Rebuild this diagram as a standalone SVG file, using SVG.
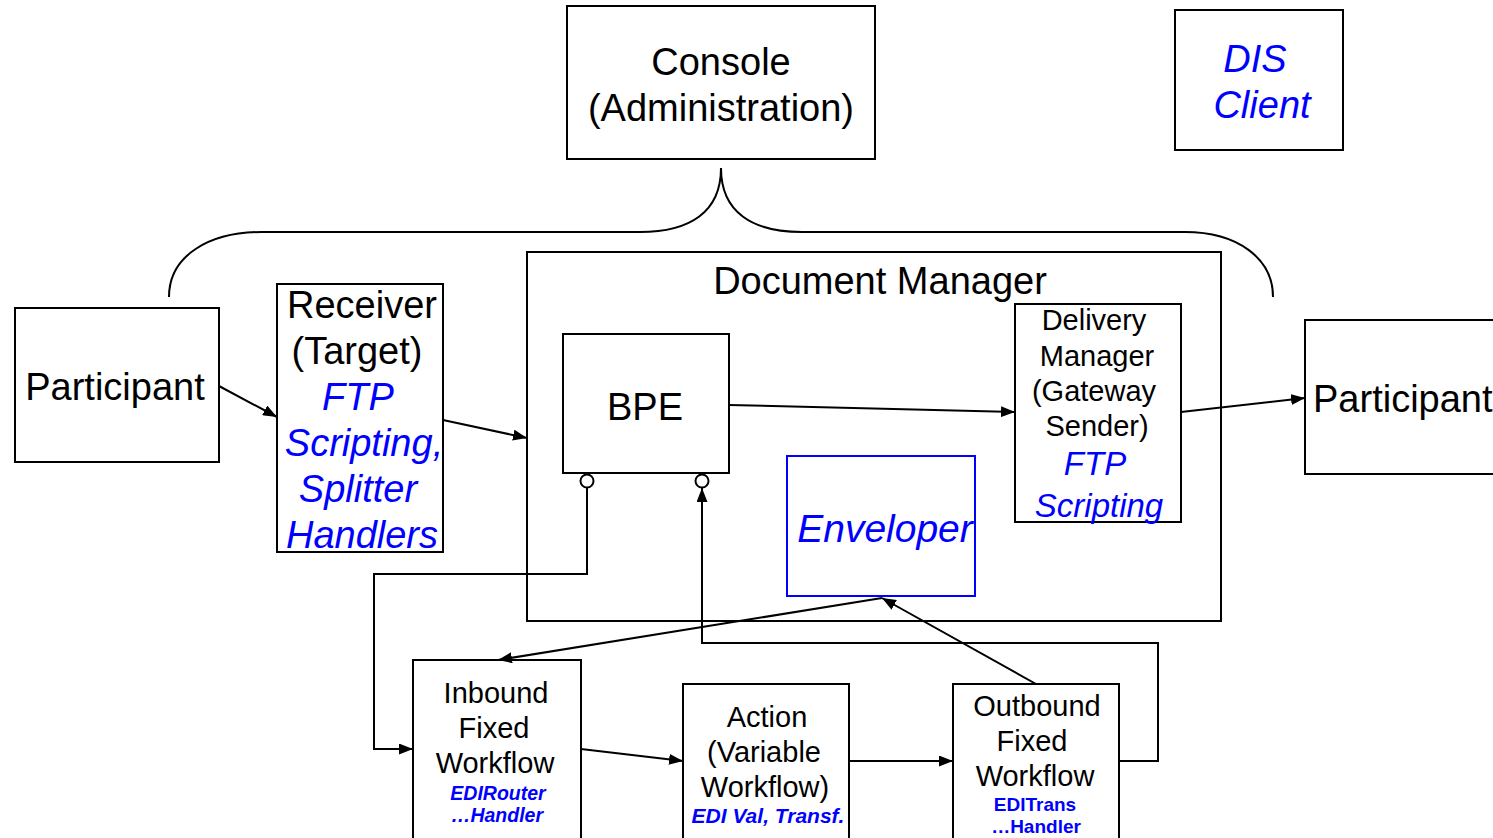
<svg xmlns="http://www.w3.org/2000/svg" width="1493" height="838" viewBox="0 0 1493 838">
<defs>
<marker id="ah" viewBox="0 0 14 11" refX="14" refY="5.5" markerWidth="14" markerHeight="11" markerUnits="userSpaceOnUse" orient="auto"><path d="M0,0 L14,5.5 L0,11 Z" fill="#000"/></marker>
</defs>
<style>
.box{fill:#fff;stroke:#000;stroke-width:2}
.bbox{fill:#fff;stroke:#0000ff;stroke-width:2}
.t{font-family:"Liberation Sans",Arial,sans-serif;fill:#000;text-anchor:middle}
.b{font-family:"Liberation Sans",Arial,sans-serif;fill:#0000ff;font-style:italic;text-anchor:middle}
.bb{font-family:"Liberation Sans",Arial,sans-serif;fill:#0000ff;font-weight:bold;text-anchor:middle}
.c{fill:none;stroke:#000;stroke-width:2}
</style>
<rect width="1493" height="838" fill="#fff"/>
<g id="brace"><path class="c" d="M169,297 C169,255 210,232 262,232 L640,232 C690,232 721,212 721,168 C721,212 752,232 802,232 L1185,232 C1237,232 1273,258 1273,297"/></g>
<g id="console"><rect class="box" x="567" y="6" width="308" height="153"/>
<text class="t" font-size="38" x="721" y="75">Console</text>
<text class="t" font-size="38" x="721" y="121">(Administration)</text></g>
<g id="dis"><rect class="box" x="1175" y="10" width="168" height="140"/>
<text class="b" font-size="38" x="1255" y="72">DIS</text>
<text class="b" font-size="38" x="1262" y="118">Client</text></g>
<g id="docmgr"><rect class="box" x="527" y="252" width="694" height="369"/>
<text class="t" font-size="38" x="880" y="294">Document Manager</text></g>
<g id="participant1"><rect class="box" x="15" y="308" width="204" height="154"/>
<text class="t" font-size="38" x="115" y="400">Participant</text></g>
<g id="receiver"><rect class="box" x="277" y="284" width="166" height="268"/>
<text class="t" font-size="38" x="362" y="318">Receiver</text>
<text class="t" font-size="38" x="357" y="364">(Target)</text>
<text class="b" font-size="38" x="358" y="410">FTP</text>
<text class="b" font-size="38" x="364" y="456">Scripting,</text>
<text class="b" font-size="38" x="358" y="502">Splitter</text>
<text class="b" font-size="38" x="362" y="548">Handlers</text></g>
<g id="bpe"><rect class="box" x="563" y="334" width="166" height="139"/>
<text class="t" font-size="38" x="645" y="420">BPE</text>
<circle cx="587" cy="481" r="6.5" fill="#fff" stroke="#000" stroke-width="2"/>
<circle cx="702" cy="481" r="6.5" fill="#fff" stroke="#000" stroke-width="2"/></g>
<g id="delivery"><rect class="box" x="1015" y="304" width="166" height="218"/>
<text class="t" font-size="29" x="1094" y="330">Delivery</text>
<text class="t" font-size="29" x="1097" y="366">Manager</text>
<text class="t" font-size="29" x="1094" y="401">(Gateway</text>
<text class="t" font-size="29" x="1097" y="436">Sender)</text>
<text class="b" font-size="33" x="1095" y="475">FTP</text>
<text class="b" font-size="33" x="1099" y="517">Scripting</text></g>
<g id="participant2"><rect class="box" x="1305" y="320" width="200" height="154"/>
<text class="t" font-size="38" x="1313" y="412" style="text-anchor:start">Participant</text></g>
<g id="enveloper"><rect class="bbox" x="787" y="456" width="188" height="140"/>
<text class="b" font-size="39" x="885" y="542">Enveloper</text></g>
<g id="inbound"><rect class="box" x="413" y="660" width="168" height="180"/>
<text class="t" font-size="29" x="496" y="703">Inbound</text>
<text class="t" font-size="29" x="494" y="738">Fixed</text>
<text class="t" font-size="29" x="495" y="773">Workflow</text>
<text class="bb" font-size="19.5" font-style="italic" x="498" y="800">EDIRouter</text>
<text class="bb" font-size="19.5" font-style="italic" x="497" y="822">…Handler</text></g>
<g id="action"><rect class="box" x="683" y="684" width="166" height="156"/>
<text class="t" font-size="29" x="767" y="727">Action</text>
<text class="t" font-size="29" x="764" y="762">(Variable</text>
<text class="t" font-size="29" x="765" y="797">Workflow)</text>
<text class="bb" font-size="21" font-style="italic" x="768" y="823">EDI Val, Transf.</text></g>
<g id="outbound"><rect class="box" x="953" y="684" width="166" height="156"/>
<text class="t" font-size="29" x="1037" y="716">Outbound</text>
<text class="t" font-size="29" x="1032" y="751">Fixed</text>
<text class="t" font-size="29" x="1035" y="786">Workflow</text>
<text class="bb" font-size="19" x="1035" y="811">EDITrans</text>
<text class="bb" font-size="19" x="1036" y="833">…Handler</text></g>
<g id="connectors">
<line class="c" x1="219" y1="386" x2="277" y2="417" marker-end="url(#ah)"/>
<line class="c" x1="443" y1="420" x2="527" y2="438" marker-end="url(#ah)"/>
<line class="c" x1="729" y1="405" x2="1015" y2="412" marker-end="url(#ah)"/>
<line class="c" x1="1181" y1="412" x2="1305" y2="398" marker-end="url(#ah)"/>
<polyline class="c" points="587,488 587,574 374,574 374,749 413,749" marker-end="url(#ah)"/>
<polyline class="c" points="1119,761 1158,761 1158,643 702,643 702,488" marker-end="url(#ah)"/>
<line class="c" x1="882" y1="598" x2="498" y2="660" marker-end="url(#ah)"/>
<line class="c" x1="1036" y1="684" x2="882" y2="598" stroke-width="2.5" marker-end="url(#ah)"/>
<line class="c" x1="581" y1="749" x2="683" y2="761" marker-end="url(#ah)"/>
<line class="c" x1="849" y1="761" x2="953" y2="761" marker-end="url(#ah)"/>
</g>
</svg>
